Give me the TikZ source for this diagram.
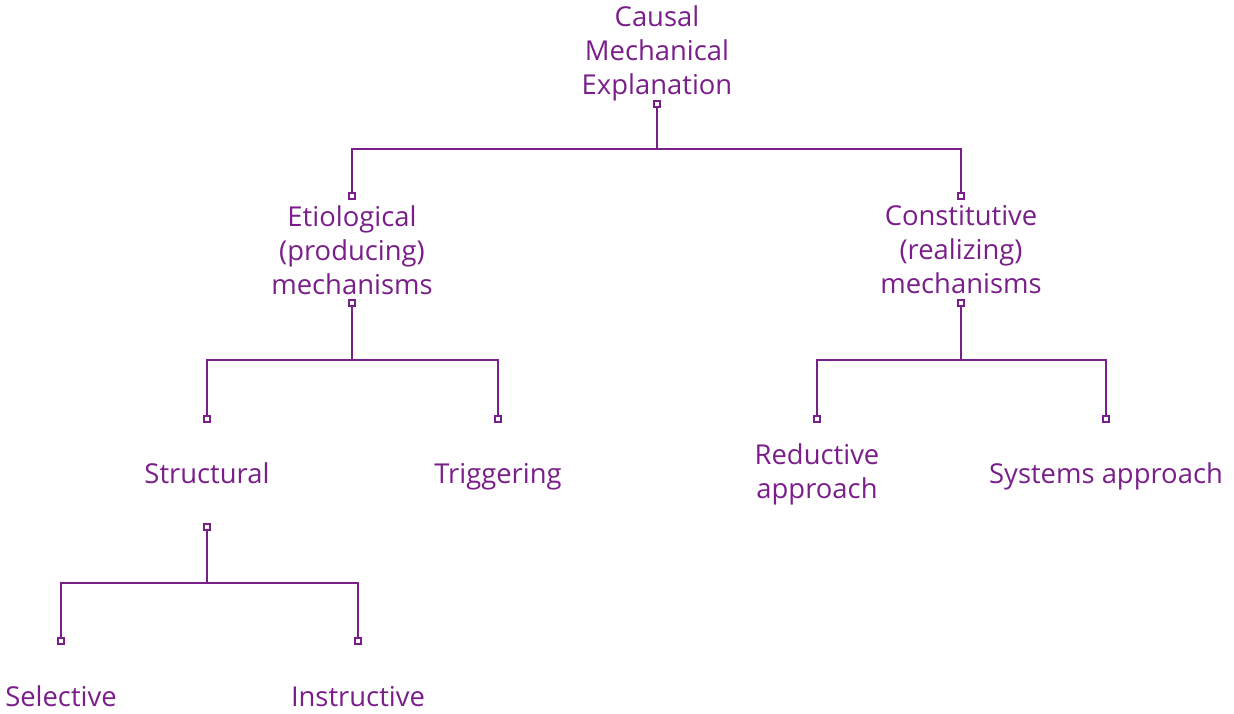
\documentclass[tikz,border=0pt]{standalone}
\usepackage{fontspec}
\setmainfont{Open Sans}
\usetikzlibrary{positioning}
\definecolor{mechpurple}{RGB}{122,31,138}

\begin{document}
\begin{tikzpicture}[x=0.5pt, y=-0.5pt, every node/.style={text=mechpurple, align=center, font=\fontsize{13.7}{17}\selectfont}, leaf/.style={text height=.75em, text depth=.25em}, port/.style={rectangle, draw=mechpurple, fill=white, line width=0.6pt, minimum size=3pt, inner sep=0pt}, link/.style={draw=mechpurple, line width=1pt}]
  \useasboundingbox (0,0) rectangle (1234,713);
  \node (cause) at (657,53) {Causal\\Mechanical\\Explanation};
  \node (etio) at (352,250) {Etiological\\(producing)\\mechanisms};
  \node (const) at (961,250) {Constitutive\\(realizing)\\mechanisms};
  \node[leaf] (struct) at (207,478) {Structural};
  \node[leaf] (trig) at (498,478) {Triggering};
  \node (reduct) at (817,474) {Reductive\\approach};
  \node[leaf] (systems) at (1106,478) {Systems approach};
  \node[leaf] (select) at (61,701) {Selective};
  \node[leaf] (instruct) at (358,701) {Instructive};

  \node[port] (causeout) at (657,104) {};
  \node[port] (etioin) at (352,196) {};
  \node[port] (constin) at (961,196) {};
  \node[port] (etioout) at (352,303) {};
  \node[port] (constout) at (961,303) {};
  \node[port] (structin) at (207,419) {};
  \node[port] (trigin) at (498,419) {};
  \node[port] (reductin) at (817,419) {};
  \node[port] (systemsin) at (1106,419) {};
  \node[port] (structout) at (207,527) {};
  \node[port] (selectin) at (61,641) {};
  \node[port] (instructin) at (358,641) {};

  \coordinate (causefork) at (657,149);
  \coordinate (etiofork) at (352,360);
  \coordinate (constfork) at (961,360);
  \coordinate (structfork) at (207,583);

  \draw[link] (causeout.south) -- (causefork) -| (etioin.north);
  \draw[link] (causefork) -| (constin.north);
  \draw[link] (etioout.south) -- (etiofork) -| (structin.north);
  \draw[link] (etiofork) -| (trigin.north);
  \draw[link] (constout.south) -- (constfork) -| (reductin.north);
  \draw[link] (constfork) -| (systemsin.north);
  \draw[link] (structout.south) -- (structfork) -| (selectin.north);
  \draw[link] (structfork) -| (instructin.north);
\end{tikzpicture}
\end{document}
